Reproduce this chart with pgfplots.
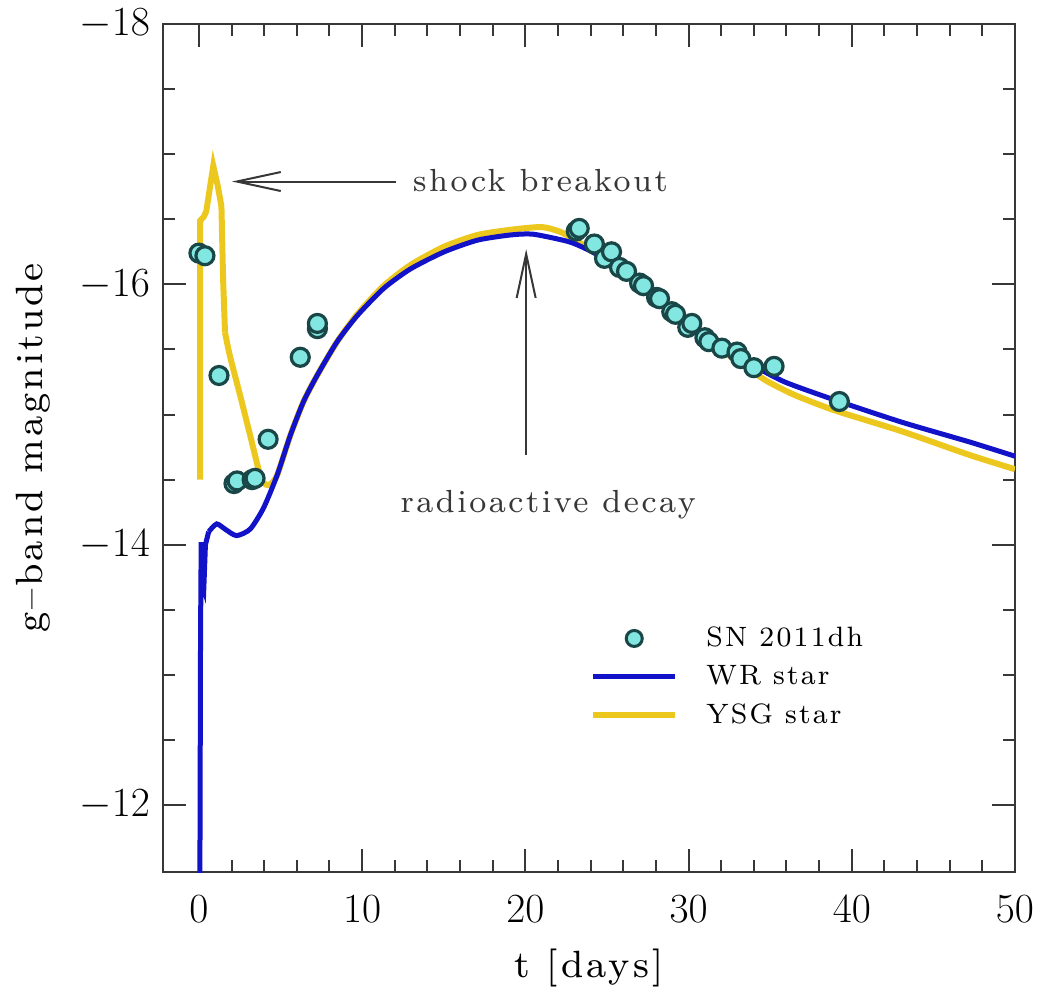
\documentclass[border=0pt]{standalone}
\usepackage{fontspec}
\setmainfont{lmroman8-regular.otf}[LetterSpace=8]
\usepackage{pgfplots}
\pgfplotsset{compat=1.18}
\usetikzlibrary{arrows.meta}

\definecolor{wrblue}{RGB}{18,18,200}
\definecolor{ysgyellow}{RGB}{236,200,30}
\definecolor{snfill}{RGB}{130,230,225}
\definecolor{snedge}{RGB}{25,70,70}
\definecolor{framegray}{RGB}{55,55,55}

\begin{document}
\begin{tikzpicture}
\begin{axis}[
  scale only axis,
  width=426pt, height=424pt,
  xmin=-2.2, xmax=50,
  ymin=-18, ymax=-11.486,
  y dir=reverse,
  xtick={0,10,...,50},
  ytick={-18,-16,-14,-12},
  minor x tick num=4,
  minor y tick num=3,
  tick align=inside,
  major tick length=11.5pt,
  minor tick length=6pt,
  axis line style={draw=framegray, line width=1.2pt},
  tick style={draw=framegray, line width=1pt},
  tick label style={font=\fontsize{19.5}{23}\selectfont},
  xticklabel style={yshift=-8.5pt},
  yticklabel style={xshift=-3pt},
  label style={font=\fontsize{19}{23}\selectfont},
  xlabel={t [days]},
  ylabel={g–band magnitude},
  xlabel style={at={(axis description cs:0.5,-0.124)}, anchor=base},
  ylabel style={at={(axis description cs:-0.142,0.5)}, anchor=base},
  legend image code/.code={\draw[mark repeat=2,mark phase=2,#1] plot coordinates {(0pt,0pt) (20.5pt,0pt) (41pt,0pt)};},
  legend style={at={(0.501,0.294)}, anchor=north west, draw=none, fill=none,
    font=\fontsize{14}{17}\selectfont, inner sep=0pt, row sep=4pt, column sep=12pt},
  legend cell align=left,
]

% YSG model
\addplot[ysgyellow, line width=3pt, forget plot] coordinates {
(0.08,-14.50) (0.08,-16.49) (0.30,-16.52) (0.45,-16.56) (0.88,-16.91)
(1.15,-16.76) (1.38,-16.60) (1.48,-16.05) (1.60,-15.63)
};
\addplot[ysgyellow, line width=3pt, smooth, tension=0.4, forget plot] coordinates {
(1.60,-15.63) (1.90,-15.45)
(2.52,-15.15) (3.14,-14.84) (3.65,-14.58) (3.90,-14.48) (4.30,-14.46)
(4.78,-14.53) (5.60,-14.84) (6.41,-15.10) (7.24,-15.30) (8.47,-15.56)
(9.70,-15.77) (11.33,-15.99) (12.98,-16.15) (15.03,-16.29) (17.08,-16.38)
(19.13,-16.42) (21.00,-16.44) (22.20,-16.40) (23.60,-16.30) (24.66,-16.21)
(26.20,-16.08) (27.74,-15.94) (29.20,-15.78) (30.80,-15.61) (32.30,-15.47)
(33.90,-15.33) (34.90,-15.25) (36.50,-15.15) (39.00,-15.03) (43.10,-14.87)
(47.20,-14.69) (50.00,-14.58)
};

% WR model
\addplot[wrblue, line width=2.5pt, forget plot] coordinates {
(0.06,-11.40) (0.10,-13.30) (0.14,-14.02) (0.20,-13.70) (0.30,-13.66)
(0.40,-14.00) (0.60,-14.10)
};
\addplot[wrblue, line width=2.5pt, smooth, tension=0.4, forget plot] coordinates {
(0.60,-14.10) (1.09,-14.16) (1.60,-14.12) (2.30,-14.07)
(3.14,-14.12) (3.95,-14.28) (4.78,-14.53) (5.60,-14.84) (6.41,-15.10)
(7.24,-15.30) (8.47,-15.56) (9.70,-15.76) (11.33,-15.97) (12.98,-16.12)
(15.03,-16.25) (17.08,-16.34) (19.13,-16.38) (20.50,-16.385) (22.60,-16.33)
(23.60,-16.28) (24.66,-16.21) (26.20,-16.08) (27.74,-15.94) (29.20,-15.78)
(30.80,-15.61) (32.30,-15.49) (33.90,-15.38) (35.90,-15.25) (39.00,-15.11)
(43.10,-14.94) (47.20,-14.79) (50.00,-14.68)
};

% SN 2011dh
\addplot[only marks, mark=*, mark size=4.5pt,
  mark options={fill=snfill, draw=snedge, line width=1.6pt}, forget plot] coordinates {
(0.00,-16.24) (0.37,-16.22) (1.23,-15.30) (2.15,-14.47) (2.34,-14.49)
(3.26,-14.50) (3.44,-14.51) (4.24,-14.81) (6.21,-15.44) (7.26,-15.66)
(7.26,-15.70) (23.12,-16.41) (23.30,-16.43) (24.23,-16.31) (24.85,-16.20)
(25.28,-16.25) (25.77,-16.13) (26.20,-16.10) (27.00,-16.01) (27.24,-15.99)
(28.04,-15.90) (28.22,-15.89) (28.97,-15.79) (29.20,-15.77) (29.95,-15.67)
(30.20,-15.70) (31.00,-15.59) (31.24,-15.56) (32.04,-15.51) (32.97,-15.48)
(33.20,-15.43) (34.00,-15.36) (35.24,-15.37) (39.24,-15.10)
};

\addlegendimage{only marks, mark=*, mark size=4pt, mark options={fill=snfill, draw=snedge, line width=1.5pt}}
\addlegendentry{SN 2011dh}
\addlegendimage{wrblue, line width=2.5pt}
\addlegendentry{WR star}
\addlegendimage{ysgyellow, line width=3pt}
\addlegendentry{YSG star}

% annotations
\draw[framegray, line width=1pt, -{Straight Barb[length=22pt, width=9.5pt]}]
  (axis cs:12.05,-16.79) -- (axis cs:2.03,-16.79);
\node[anchor=base west, inner sep=0pt, font=\fontsize{16}{19}\selectfont, text=framegray]
  at (axis cs:13.1,-16.71) {shock breakout};
\draw[framegray, line width=1pt, -{Straight Barb[length=22pt, width=9.5pt]}]
  (axis cs:20.05,-14.69) -- (axis cs:20.05,-16.27);
\node[anchor=base, inner sep=0pt, font=\fontsize{16}{19}\selectfont, text=framegray]
  at (axis cs:21.4,-14.25) {radioactive decay};

\end{axis}
\pgfresetboundingbox
\path[use as bounding box] ([xshift=-81.5pt,yshift=-57.5pt]current axis.south west)
  rectangle ([xshift=12pt,yshift=12pt]current axis.north east);
\end{tikzpicture}
\end{document}
